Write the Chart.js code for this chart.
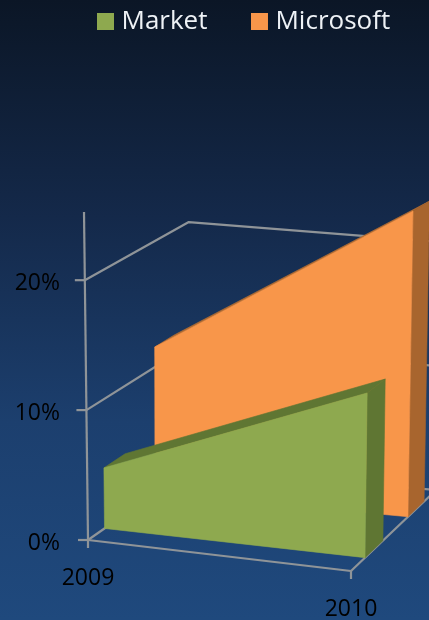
<!DOCTYPE html>
<html><head><meta charset="utf-8">
<style>
html,body{margin:0;padding:0;width:429px;height:620px;overflow:hidden;background:linear-gradient(180deg,#0b1626 0%,#14294a 35%,#1c3f6e 68%,#1f497d 100%);}
canvas{display:block;}
</style>
<script src="https://cdn.jsdelivr.net/npm/chart.js@4"></script>
</head><body>
<canvas id="c" width="429" height="620"></canvas>
<script>
const categories = ['2009', '2010'];
const market = [4.7, 12.3];
const microsoft = [11.6, 23.9];
const yTickValues = [0, 10, 20];
const yMax = 25.25;

// Perspective box: pixel position of the eight corners of the plot cube,
// keyed as [category 0/1][value 0/1][depth 0/1].
const cube = [
  [[[88,540],[188,470]], [[84,212],[189,157]]],
  [[[351,571],[436,490]], [[355,228],[442,177]]]
];
const lerp = (a,b,k) => a + (b-a)*k;
function corner(t,h,d,axis){
  const p = (i,j) => lerp(cube[i][j][0][axis], cube[i][j][1][axis], d);
  return lerp(lerp(p(0,0),p(0,1),h), lerp(p(1,0),p(1,1),h), t);
}

const bands = { Market:[0.165,0.375], Microsoft:[0.67,0.86] };
const shades = {
  Market:{front:'#8ea94f', dark:'#5f7633'},
  Microsoft:{front:'#f8964a', dark:'#a8652e', top:'#b06c32'}
};

const cube3d = {
  id:'cube3d',
  afterDatasetsDraw(chart){
    const {ctx, scales:{x,y}} = chart;
    const T = i => (x.getPixelForValue(i)-x.left)/x.width;
    const H = v => (y.bottom-y.getPixelForValue(v))/y.height;
    const P = (t,h,d) => [corner(t,h,d,0), corner(t,h,d,1)];
    const line = (pts,col,w) => {
      ctx.beginPath(); pts.forEach((p,i)=> i?ctx.lineTo(p[0],p[1]):ctx.moveTo(p[0],p[1]));
      ctx.strokeStyle=col; ctx.lineWidth=w; ctx.lineJoin='round'; ctx.stroke();
    };
    const poly = (pts,col) => {
      ctx.beginPath(); pts.forEach((p,i)=> i?ctx.lineTo(p[0],p[1]):ctx.moveTo(p[0],p[1]));
      ctx.closePath(); ctx.fillStyle=col; ctx.fill(); ctx.strokeStyle=col; ctx.lineWidth=0.6; ctx.stroke();
    };
    const grey='#8f9498';
    const t0=T(0), t1=T(1);

    // walls and floor
    yTickValues.forEach(v=>{
      const h=H(v);
      line([P(t0,h,0),P(t0,h,1),P(t1,h,1)],grey,2.2);
    });
    line([P(t0,1,0),P(t0,0,0)],grey,2.2);
    line([P(t0,0,0),P(t1,0,0),P(t1,0,1)],grey,2.2);

    // tick marks
    yTickValues.forEach(v=>{
      const p=P(t0,H(v),0);
      line([[p[0]-10,p[1]],p],grey,2.2);
    });
    categories.forEach((c,i)=>{
      const p=P(T(i),0,0);
      line([p,[p[0],p[1]+8]],grey,2.2);
    });

    // area slabs, far series first
    chart.data.datasets.slice().reverse().forEach(ds=>{
      const [d0,d1]=bands[ds.label], s=shades[ds.label];
      const h0=H(ds.data[0]), h1=H(ds.data[1]);
      poly([P(t0,h0,d0),P(t0,h0,d1),P(t1,h1,d1),P(t1,h1,d0)],s.top||s.dark);
      poly([P(t1,0,d0),P(t1,0,d1),P(t1,h1,d1),P(t1,h1,d0)],s.dark);
      poly([P(t0,0,d0),P(t1,0,d0),P(t1,h1,d0),P(t0,h0,d0)],s.front);
    });

    // tick labels
    ctx.fillStyle='#000';
    ctx.font='23px "Open Sans"';
    ctx.textBaseline='middle';
    ctx.textAlign='right';
    yTickValues.forEach(v=>{
      const p=P(t0,H(v),0);
      ctx.fillText(v+'%',60,p[1]+3);
    });
    ctx.textAlign='center';
    categories.forEach((c,i)=>{
      const p=P(T(i),0,0);
      ctx.fillText(c,p[0],p[1]+38);
    });
  }
};

new Chart(document.getElementById('c'),{
  type:'line',
  data:{labels:categories,datasets:[
    {label:'Market',data:market,backgroundColor:'#8ea94f',borderColor:'#8ea94f',borderWidth:11,showLine:false,pointRadius:0},
    {label:'Microsoft',data:microsoft,backgroundColor:'#f8964a',borderColor:'#f8964a',borderWidth:11,showLine:false,pointRadius:0}
  ]},
  options:{
    responsive:false,animation:false,
    layout:{padding:{left:53.5,right:-20,top:-40.5}},
    scales:{
      x:{type:'category',display:false,offset:false},
      y:{type:'linear',display:false,min:0,max:yMax,ticks:{stepSize:10,includeBounds:false}}
    },
    plugins:{
      tooltip:{enabled:false},
      legend:{
        position:'top',
        align:'start',
        onClick:null,
        labels:{color:'#eef2f6',boxWidth:6,boxHeight:6,padding:49,font:{family:'"Open Sans"',size:26}}
      }
    }
  },
  plugins:[cube3d]
});
</script>
</body></html>
